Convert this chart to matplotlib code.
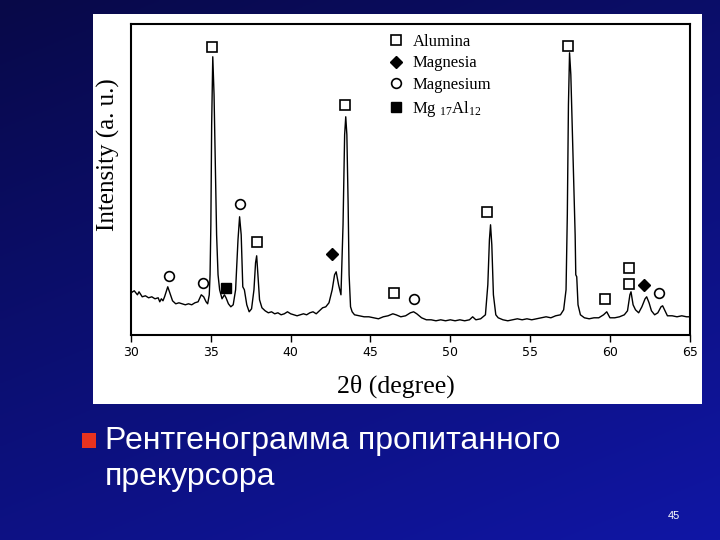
import numpy as np
import matplotlib
matplotlib.use('Agg')
import matplotlib.pyplot as plt
from matplotlib.patches import Rectangle

# XRD pattern (2theta in degrees, intensity in arbitrary units)
two_theta = [30.0, 30.2, 30.4, 30.5, 30.7, 30.9, 31.1, 31.3, 31.5, 31.7, 31.8, 31.9,
             32.0, 32.1, 32.3, 32.45, 32.6, 32.8, 33.0, 33.2, 33.4, 33.6, 33.8, 34.0,
             34.2, 34.4, 34.55, 34.7, 34.8, 34.9, 34.95, 35.0, 35.05, 35.12, 35.2, 35.28,
             35.36, 35.45, 35.55, 35.7, 35.85, 35.95, 36.1, 36.25, 36.4, 36.55, 36.7, 36.8,
             36.9, 37.0, 37.1, 37.25, 37.4, 37.55, 37.7, 37.8, 37.87, 37.95, 38.05, 38.2,
             38.4, 38.6, 38.8, 39.0, 39.2, 39.4, 39.6, 39.8, 40.0, 40.2, 40.4, 40.6,
             40.8, 41.0, 41.2, 41.4, 41.6, 41.8, 42.0, 42.2, 42.4, 42.6, 42.75, 42.85,
             43.0, 43.15, 43.28, 43.38, 43.45, 43.52, 43.6, 43.66, 43.75, 43.85, 44.0, 44.3,
             44.6, 44.9, 45.2, 45.5, 45.8, 46.1, 46.4, 46.6, 46.9, 47.2, 47.5, 47.7,
             47.9, 48.2, 48.5, 48.8, 49.1, 49.4, 49.7, 50.0, 50.3, 50.6, 50.9, 51.2,
             51.4, 51.6, 51.9, 52.2, 52.35, 52.45, 52.52, 52.6, 52.7, 52.85, 53.0, 53.3,
             53.6, 53.9, 54.2, 54.5, 54.8, 55.1, 55.4, 55.7, 56.0, 56.3, 56.6, 56.9,
             57.1, 57.25, 57.33, 57.4, 57.47, 57.55, 57.65, 57.75, 57.82, 57.86, 57.92, 58.0,
             58.15, 58.4, 58.7, 59.0, 59.3, 59.6, 59.8, 60.0, 60.3, 60.6, 60.9, 61.1,
             61.25, 61.32, 61.45, 61.6, 61.8, 62.0, 62.2, 62.3, 62.45, 62.6, 62.8, 63.0,
             63.2, 63.3, 63.45, 63.6, 63.9, 64.2, 64.5, 64.8, 65.0]
intensity = [42, 44, 40, 43, 38, 39, 37, 38, 36, 37, 33, 36,
             34, 38, 48, 41, 34, 31, 32, 31, 30, 31, 30, 32,
             33, 40, 38, 33, 31, 40, 60, 110, 210, 278, 240, 170,
             100, 60, 45, 36, 40, 37, 31, 28, 30, 45, 95, 118,
             100, 48, 45, 30, 23, 26, 45, 72, 79, 60, 35, 27,
             24, 22, 23, 21, 22, 20, 21, 23, 21, 20, 19, 20,
             21, 20, 22, 23, 21, 24, 27, 28, 32, 45, 60, 63,
             50, 40, 110, 200, 218, 200, 130, 60, 28, 23, 20, 19,
             18, 18, 17, 16, 18, 19, 21, 20, 18, 19, 22, 23,
             21, 17, 15, 15, 14, 15, 14, 15, 14, 15, 14, 15,
             18, 15, 16, 20, 50, 95, 110, 90, 40, 20, 17, 15,
             14, 15, 16, 15, 16, 15, 16, 17, 18, 17, 19, 20,
             25, 45, 120, 230, 282, 260, 200, 138, 100, 60, 58, 30,
             20, 17, 16, 17, 17, 20, 23, 17, 17, 18, 20, 24,
             40, 43, 30, 25, 22, 28, 36, 38, 32, 24, 20, 22,
             28, 29, 24, 19, 19, 18, 19, 18, 18]

# phase markers
alumina_x = [35.1, 37.9, 43.4, 46.5, 52.3, 57.4, 59.7, 61.2, 61.2]
alumina_y = [288, 93, 230, 42, 123, 289, 36, 67, 51]
magnesia_x = [42.6, 62.15]
magnesia_y = [81, 50]
magnesium_x = [32.4, 34.5, 36.85, 47.7, 63.1]
magnesium_y = [59, 52, 131, 36, 42]
mg17al12_x = [35.95]
mg17al12_y = [47]

serif = 'Liberation Serif'

fig = plt.figure(figsize=(7.2, 5.4), dpi=100)

# slide background
bg = fig.add_axes([0, 0, 1, 1])
bg.axis('off')
yy, xx = np.mgrid[0:1:200j, 0:1:200j]
t = 0.65 * yy + 0.35 * xx
dark = np.array([8, 9, 72]) / 255
light = np.array([16, 22, 165]) / 255
bg.imshow(dark + (light - dark) * t[..., None], extent=[0, 1, 0, 1],
          origin='upper', aspect='auto')
bg.set_xlim(0, 1)
bg.set_ylim(0, 1)
bg.add_patch(Rectangle((0.129, 0.252), 0.846, 0.722, facecolor='white',
                       edgecolor='none', zorder=2))
bg.add_patch(Rectangle((82 / 720, 1 - 448 / 540), 14 / 720, 15 / 540,
                       facecolor='#e8331f', edgecolor='none', zorder=2))

# chart
ax = fig.add_axes([0.182, 0.380, 0.776, 0.576])
ax.plot(two_theta, intensity, color='black', lw=1.0)
ax.plot(alumina_x, alumina_y, 's', ms=7, mfc='white', mec='black', mew=1.2,
        label='Alumina')
ax.plot(magnesia_x, magnesia_y, 'D', ms=6, mfc='black', mec='black',
        label='Magnesia')
ax.plot(magnesium_x, magnesium_y, 'o', ms=7, mfc='white', mec='black', mew=1.2,
        label='Magnesium')
ax.plot(mg17al12_x, mg17al12_y, 's', ms=6.5, mfc='black', mec='black',
        label=r'Mg $\mathregular{_{17}}$Al$\mathregular{_{12}}$')
ax.set_xlim(30, 65)
ax.set_ylim(0, 311)
ax.set_yticks([])
ax.set_xticks(range(30, 66, 5))
ax.tick_params(axis='x', direction='out', length=5, width=1, labelsize=9, pad=3)
for lbl in ax.get_xticklabels():
    lbl.set_family(['Liberation Sans Narrow', 'DejaVu Sans'])
for s in ax.spines.values():
    s.set_linewidth(1.5)

ax.legend(loc='upper left', bbox_to_anchor=(0.444, 0.995), frameon=False,
          handlelength=1.0, handletextpad=0.5, labelspacing=0.35, borderpad=0,
          prop={'family': serif, 'size': 12})

fig.text(0.150, 1 - 155 / 540, 'Intensity (a. u.)', rotation=90, ha='center',
         va='center', fontsize=18, family=serif)
fig.text(396 / 720, 1 - 386 / 540, '2θ (degree)', ha='center', va='center',
         fontsize=18.5, family=serif)

# slide text
fig.text(105 / 720, 1 - 449 / 540, 'Рентгенограмма пропитанного', color='white',
         fontsize=23, family='Liberation Sans', va='baseline')
fig.text(105 / 720, 1 - 485 / 540, 'прекурсора', color='white',
         fontsize=23, family='Liberation Sans', va='baseline')
fig.text(674 / 720, 1 - 516 / 540, '45', color='white', fontsize=8,
         family='Liberation Sans', ha='center', va='center')

fig.savefig('out.png', dpi=100)
